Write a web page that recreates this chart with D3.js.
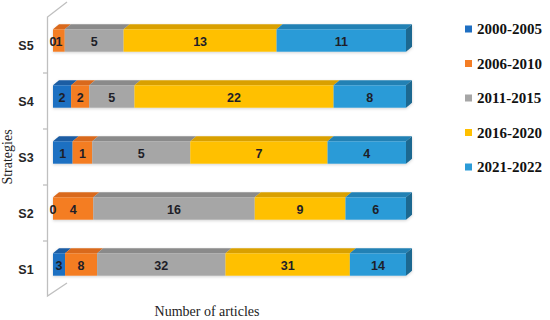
<!DOCTYPE html>
<html>
<head>
<meta charset="utf-8">
<script src="https://cdn.jsdelivr.net/npm/d3@7/dist/d3.min.js"></script>
<style>
  body { margin: 0; background: #fff; }
</style>
</head>
<body>
<div id="chart"></div>
<script>
// categories, bottom to top
var categories = ['S1', 'S2', 'S3', 'S4', 'S5'];
var seriesNames = ['2000-2005', '2006-2010', '2011-2015', '2016-2020', '2021-2022'];

// number of articles per period, one entry per category
var p2000_2005 = [3, 0, 1, 2, 0];
var p2006_2010 = [8, 4, 1, 2, 1];
var p2011_2015 = [32, 16, 5, 5, 5];
var p2016_2020 = [31, 9, 7, 22, 13];
var p2021_2022 = [14, 6, 4, 8, 11];

var seriesValues = [p2000_2005, p2006_2010, p2011_2015, p2016_2020, p2021_2022];

function drawChart() {
    var width = 550, height = 320;
    var front = ['#1f6fc2', '#f47d24', '#a6a6a6', '#ffc000', '#2b9bd7'];
    var topFace = ['#1a5da3', '#d9691c', '#8a8a8a', '#d9a000', '#2381b4'];
    var sideColor = '#1b6890';
    var dx = 6, dy = 5;

    var svg = d3.select('#chart')
        .append('svg')
        .attr('width', width)
        .attr('height', height);

    var defs = svg.append('defs');
    var f = defs.append('filter').attr('id', 'glow')
        .attr('x', '-5%').attr('y', '-40%').attr('width', '110%').attr('height', '180%');
    f.append('feDropShadow')
        .attr('dx', 0).attr('dy', 1)
        .attr('stdDeviation', 1.6)
        .attr('flood-color', '#000')
        .attr('flood-opacity', 0.18);

    var y = d3.scaleBand()
        .domain(categories.slice().reverse())
        .range([17, 297])
        .paddingInner(0.6)
        .paddingOuter(0.3);

    var x = d3.scaleLinear()
        .domain([0, 1])
        .range([53, 406]);

    // rows for the stack, as shares of each category's total
    var rows = categories.map((c, i) => {
        var total = d3.sum(seriesValues, s => s[i]);
        var row = {cat: c, total: total};
        seriesNames.forEach((n, k) => { row[n] = seriesValues[k][i] / total; });
        return row;
    });
    var stack = d3.stack().keys(seriesNames)(rows);

    // wall line with its depth diagonals
    var wall = svg.append('g').attr('stroke', '#bfbfbf').attr('stroke-width', 1.3).attr('fill', 'none');
    wall.append('path').attr('d', 'M67,2 L47.5,17 L47.5,296 L67,283');
    var bounds = d3.range(1, categories.length).map(i => y.range()[0] + i * y.step());
    wall.selectAll('line.tick')
        .data(bounds)
        .enter()
        .append('line')
        .attr('x1', 43).attr('x2', 47.5)
        .attr('y1', d => d).attr('y2', d => d);

    var bars = svg.append('g');

    categories.forEach((c, i) => {
        var y0 = y(c) - 4.5;
        var h = y.bandwidth();
        var g = bars.append('g').attr('filter', 'url(#glow)');
        stack.forEach((layer, k) => {
            var d = layer[i];
            var xa = x(d[0]), xb = x(d[1]);
            if (xb - xa <= 0) return;
            g.append('path')
                .attr('d', 'M' + xa + ',' + y0 + 'L' + (xa + dx) + ',' + (y0 - dy) +
                    'L' + (xb + dx) + ',' + (y0 - dy) + 'L' + xb + ',' + y0 + 'Z')
                .attr('fill', topFace[k]);
            g.append('rect')
                .attr('x', xa).attr('y', y0)
                .attr('width', xb - xa).attr('height', h)
                .attr('fill', front[k]);
        });
        var xe = x(1);
        g.append('path')
            .attr('d', 'M' + xe + ',' + y0 + 'L' + (xe + dx) + ',' + (y0 - dy) +
                'L' + (xe + dx) + ',' + (y0 + h - dy) + 'L' + xe + ',' + (y0 + h) + 'Z')
            .attr('fill', sideColor);

        // data labels
        stack.forEach((layer, k) => {
            var d = layer[i];
            bars.append('text')
                .attr('x', x((d[0] + d[1]) / 2))
                .attr('y', y0 + h / 2 + 0.5)
                .attr('dy', '0.36em')
                .attr('text-anchor', 'middle')
                .attr('font-family', 'Liberation Sans, Arial, sans-serif')
                .attr('font-weight', 'bold')
                .attr('font-size', '12.5px')
                .attr('fill', '#1e1e28')
                .text(seriesValues[k][i]);
        });
    });

    // category labels
    svg.append('g')
        .selectAll('text')
        .data(categories)
        .enter()
        .append('text')
        .attr('x', 26)
        .attr('y', d => y(d) + y.bandwidth() / 2)
        .attr('dy', '0.36em')
        .attr('text-anchor', 'middle')
        .attr('font-family', 'Liberation Sans, Arial, sans-serif')
        .attr('font-weight', 'bold')
        .attr('font-size', '12.5px')
        .attr('fill', '#262626')
        .text(d => d);

    // axis titles
    svg.append('text')
        .attr('transform', 'translate(12,157) rotate(-90)')
        .attr('text-anchor', 'middle')
        .attr('font-family', 'Liberation Serif, Times New Roman, serif')
        .attr('font-size', '14px')
        .attr('fill', '#222')
        .text('Strategies');

    svg.append('text')
        .attr('x', 207)
        .attr('y', 316)
        .attr('text-anchor', 'middle')
        .attr('font-family', 'Liberation Serif, Times New Roman, serif')
        .attr('font-size', '14px')
        .attr('fill', '#222')
        .text('Number of articles');

    // legend
    var legend = svg.append('g')
        .selectAll('g')
        .data(seriesNames)
        .enter()
        .append('g')
        .attr('transform', (d, k) => 'translate(465,' + (29 + k * 34.5) + ')');
    legend.append('rect')
        .attr('x', 0).attr('y', -3.5)
        .attr('width', 7).attr('height', 7)
        .attr('fill', (d, k) => front[k]);
    legend.append('text')
        .attr('x', 12)
        .attr('dy', '0.35em')
        .attr('font-family', 'Liberation Serif, Times New Roman, serif')
        .attr('font-weight', 'bold')
        .attr('font-size', '15px')
        .attr('fill', '#111')
        .text(d => d);
}

drawChart();
</script>
</body>
</html>
